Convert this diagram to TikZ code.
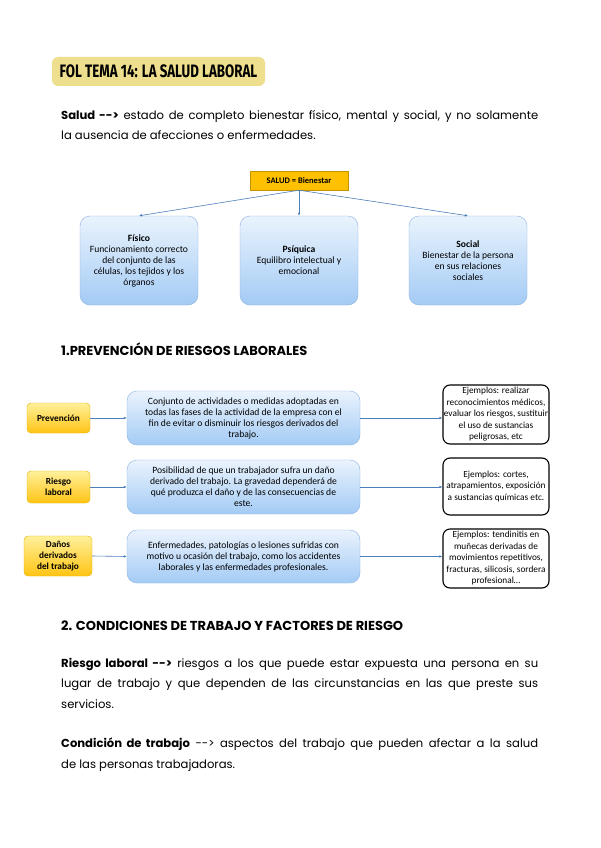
\documentclass[tikz,border=0pt]{standalone}
\usepackage{fontspec}
\setmainfont{Poppins}
\newfontfamily\boxfont{Carlito}
\newfontfamily\titlefont[FakeStretch=0.74]{Fira Sans}
\usetikzlibrary{arrows.meta}

\definecolor{titleyellow}{HTML}{EEDF8E}
\definecolor{lineblue}{HTML}{4A7EBB}
\definecolor{boxtop}{HTML}{EAF3FD}
\definecolor{boxbottom}{HTML}{A3CBF5}
\definecolor{boxedge}{HTML}{8DB3E2}
\definecolor{goldtop}{HTML}{FFF09A}
\definecolor{goldbottom}{HTML}{FFC414}
\definecolor{goldedge}{HTML}{E5B100}
\definecolor{orangebox}{HTML}{FFC000}
\definecolor{orangeedge}{HTML}{C79200}

\newcommand{\longarrow}{{-}{-}>}

\tikzset{
  bluebox/.style={draw=boxedge, rounded corners=10pt, top color=boxtop,
    bottom color=boxbottom, align=center, inner sep=0pt,
    font=\boxfont\fontsize{9.6}{11}\selectfont},
  goldbox/.style={draw=goldedge, rounded corners=4pt, top color=goldtop,
    bottom color=goldbottom, align=center, inner sep=0pt,
    font=\boxfont\bfseries\fontsize{9.3}{11}\selectfont},
  examplebox/.style={draw=black, line width=1.1pt, rounded corners=7pt,
    fill=white, align=center, inner sep=0pt,
    font=\boxfont\fontsize{9.3}{11.5}\selectfont},
  link/.style={draw=lineblue, line width=0.6pt, -{Latex[length=3pt,width=2.6pt]}},
  bodytext/.style={anchor=north west, inner sep=0pt, text width=477pt,
    align=justify, font=\fontsize{11.6}{20.3}\selectfont},
  heading/.style={anchor=base west, inner sep=0pt,
    font=\bfseries\fontsize{13}{15}\selectfont},
}

\begin{document}
\begin{tikzpicture}[x=1pt, y=-1pt]
\useasboundingbox[fill=white] (0,0) rectangle (600,848);

% title
\node[fill=titleyellow, rounded corners=6pt, minimum width=213pt,
  minimum height=29pt, inner sep=0pt, font=\titlefont\bfseries\fontsize{18}{20}\selectfont]
  (title) at (158.5,71.5) {FOL TEMA 14: LA SALUD LABORAL};

\node[bodytext] (salud) at (61,110)
  {\textbf{Salud \longarrow} estado de completo bienestar físico, mental y social, y no solamente\linebreak
   la ausencia de afecciones o enfermedades.};

% salud = bienestar
\node[draw=orangeedge, fill=orangebox, minimum width=98pt, minimum height=19pt,
  inner sep=0pt, font=\boxfont\bfseries\fontsize{8.5}{10}\selectfont]
  (bienestar) at (299,180.5) {SALUD = Bienestar};

\node[bluebox, minimum width=118pt, minimum height=89pt] (fisico) at (139,260.5)
  {\textbf{Físico}\\ Funcionamiento correcto\\ del conjunto de las\\ células, los tejidos y los\\ órganos};
\node[bluebox, minimum width=118pt, minimum height=89pt] (psiquica) at (299,260.5)
  {\textbf{Psíquica}\\ Equilibro intelectual y\\ emocional};
\node[bluebox, minimum width=118pt, minimum height=89pt] (social) at (468,260.5)
  {\textbf{Social}\\ Bienestar de la persona\\ en sus relaciones\\ sociales};

\draw[link] (bienestar.south) -- (fisico.north);
\draw[link] (bienestar.south) -- (psiquica.north);
\draw[link] (bienestar.south) -- (social.north);

\node[heading] (prev) at (61,355) {1.PREVENCIÓN DE RIESGOS LABORALES};

% row 1
\node[goldbox, minimum width=63pt, minimum height=30pt] (prevencion) at (58.5,418)
  {Prevención};
\node[bluebox, minimum width=233pt, minimum height=54pt] (conjunto) at (243.5,418)
  {Conjunto de actividades o medidas adoptadas en\\ todas las fases de la actividad de la empresa con el\\
   fin de evitar o disminuir los riesgos derivados del\\ trabajo.};
\node[examplebox, minimum width=106pt, minimum height=59pt] (ej1) at (496,414.5)
  {Ejemplos: realizar\\ reconocimientos médicos,\\ evaluar los riesgos, sustituir\\ el uso de sustancias\\ peligrosas, etc};
\draw[link] (prevencion.east) -- (conjunto.west);
\draw[link] (conjunto.east) -- (conjunto.east -| ej1.west);

% row 2
\node[goldbox, minimum width=63pt, minimum height=32pt] (riesgo) at (58.5,487)
  {Riesgo\\ laboral};
\node[bluebox, minimum width=233pt, minimum height=54pt] (posibilidad) at (243.5,487)
  {Posibilidad de que un trabajador sufra un daño\\ derivado del trabajo. La gravedad dependerá de\\
   qué produzca el daño y de las consecuencias de\\ este.};
\node[examplebox, minimum width=106pt, minimum height=57pt] (ej2) at (496,486.5)
  {Ejemplos: cortes,\\ atrapamientos, exposición\\ a sustancias químicas etc.};
\draw[link] (riesgo.east) -- (posibilidad.west);
\draw[link] (posibilidad.east) -- (posibilidad.east -| ej2.west);

% row 3
\node[goldbox, minimum width=68pt, minimum height=40pt] (danos) at (58,556)
  {Daños\\ derivados\\ del trabajo};
\node[bluebox, minimum width=233pt, minimum height=53pt] (enfermedades) at (243.5,556.5)
  {Enfermedades, patologías o lesiones sufridas con\\ motivo u ocasión del trabajo, como los accidentes\\
   laborales y las enfermedades profesionales.};
\node[examplebox, minimum width=106pt, minimum height=59pt] (ej3) at (496,558.5)
  {Ejemplos: tendinitis en\\ muñecas derivadas de\\ movimientos repetitivos,\\ fracturas, silicosis, sordera\\ profesional…};
\draw[link] (danos.east) -- (enfermedades.west);
\draw[link] (enfermedades.east) -- (enfermedades.east -| ej3.west);

\node[heading] (cond) at (61,630) {2. CONDICIONES DE TRABAJO Y FACTORES DE RIESGO};

\node[bodytext] (riesgolab) at (61,658)
  {\textbf{Riesgo laboral \longarrow} riesgos a los que puede estar expuesta una persona en su\linebreak
   lugar de trabajo y que dependen de las circunstancias en las que preste sus\linebreak
   servicios.};
\node[bodytext] (condicion) at (61,738)
  {\textbf{Condición de trabajo} \longarrow\ aspectos del trabajo que pueden afectar a la salud\linebreak
   de las personas trabajadoras.};
\end{tikzpicture}
\end{document}
